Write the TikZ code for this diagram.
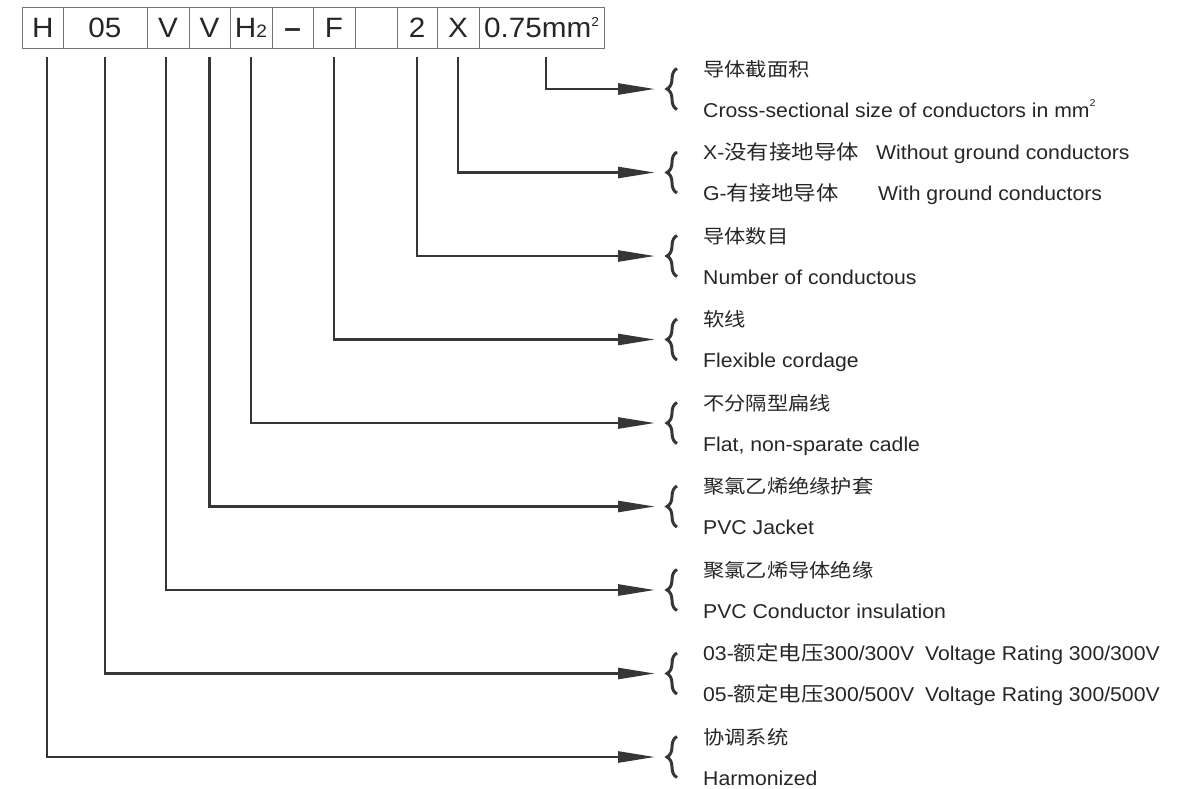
\documentclass[tikz,border=0pt]{standalone}
\usepackage{fontspec}
\setmainfont[FakeStretch=1.06]{Liberation Sans}
\newfontfamily\zhfont[FakeStretch=1.12]{Noto Sans CJK SC}
\usetikzlibrary{arrows.meta,positioning,decorations.pathreplacing}
\definecolor{cbink}{HTML}{262626}
\definecolor{cblead}{HTML}{363636}
\definecolor{cbcell}{HTML}{7A7272}
\newcommand{\zh}[1]{{\zhfont #1}}
\newcommand{\smallsup}[2]{\raisebox{#1}{\fontsize{#2}{#2}\selectfont 2}}

\begin{document}
\begin{tikzpicture}[x=1pt,y=-1pt,>=Latex,node distance=0pt]
    \tikzset{cell/.style={draw=cbcell,line width=0.9pt,outer sep=0pt,minimum height=41pt,inner sep=0pt,text height=20pt,text depth=0pt,text=cbink,font=\fontsize{28}{28}\selectfont},
      lead/.style={draw=cblead,line width=2.6pt,-{Triangle[length=37pt,width=11pt]}},
      curly/.style={draw=cblead,line width=3pt,decorate,decoration={brace,amplitude=10pt,aspect=0.5}},
      zhtxt/.style={anchor=base west,inner sep=0pt,text=cbink,font=\zhfont\fontsize{19}{19}\selectfont},
      entxt/.style={anchor=base west,inner sep=0pt,text=cbink,font=\fontsize{20}{20}\selectfont}}
    \useasboundingbox (0,0) rectangle (1182,788);
    % code cells
    \node[cell,minimum width=40.3pt] (cH) at (42.85,27.5) {H};
    \node[cell,minimum width=84pt,right=of cH] (c05) {05};
    \node[cell,minimum width=42pt,right=of c05] (cV1) {V};
    \node[cell,minimum width=41pt,right=of cV1] (cV2) {V};
    \node[cell,minimum width=42pt,right=of cV2] (cH2) {H{\fontsize{18}{18}\selectfont 2}};
    \node[cell,minimum width=41pt,right=of cH2] (cDash) {\textbf{--}};
    \node[cell,minimum width=42pt,right=of cDash] (cF) {F};
    \node[cell,minimum width=42pt,right=of cF] (cBlank) {};
    \node[cell,minimum width=40pt,right=of cBlank] (cN) {2};
    \node[cell,minimum width=42pt,right=of cN] (cX) {X};
    \node[cell,minimum width=125pt,right=of cX] (cSize) {0.75mm\smallsup{11pt}{13}};
    % arrow tips
    \coordinate (tSize) at (655,89);
    \coordinate (tX) at (655,172.5);
    \coordinate (tN) at (655,256);
    \coordinate (tF) at (655,339.5);
    \coordinate (tH2) at (655,423);
    \coordinate (tV2) at (655,506.5);
    \coordinate (tV1) at (655,590);
    \coordinate (t05) at (655,673.5);
    \coordinate (tH) at (655,757);
    \draw[lead] ([xshift=4.5pt,yshift=-9pt]cSize.south) |- (tSize);
    \draw[lead] ([yshift=-9pt]cX.south) |- (tX);
    \draw[lead] ([yshift=-9pt]cN.south) |- (tN);
    \draw[lead] ([yshift=-9pt]cF.south) |- (tF);
    \draw[lead] ([yshift=-9pt]cH2.south) |- (tH2);
    \draw[lead] ([yshift=-9pt]cV2.south) |- (tV2);
    \draw[lead] ([xshift=-2pt,yshift=-9pt]cV1.south) |- (tV1);
    \draw[lead] ([yshift=-9pt]c05.south) |- (t05);
    \draw[lead] ([xshift=4pt,yshift=-9pt]cH.south) |- (tH);
    \foreach \t in {tSize,tX,tN,tF,tH2,tV2,tV1,t05,tH}
      \draw[curly] ([shift={(22,20.5)}]\t) -- ([shift={(22,-20.5)}]\t);
    % explanations
    \node[zhtxt] (zSize) at ([shift={(48,-13)}]tSize) {导体截面积};
    \node[entxt] (eSize) at ([shift={(48,28)}]tSize) {Cross-sectional size of conductors in mm\smallsup{0.55em}{10}};
    \node[entxt] (zX) at ([shift={(48,-13)}]tX) {\makebox[173pt][l]{X-\zh{没有接地导体}}Without ground conductors};
    \node[entxt] (eX) at ([shift={(48,28)}]tX) {\makebox[175pt][l]{G-\zh{有接地导体}}With ground conductors};
    \node[zhtxt] (zN) at ([shift={(48,-13)}]tN) {导体数目};
    \node[entxt] (eN) at ([shift={(48,28)}]tN) {Number of conductous};
    \node[zhtxt] (zF) at ([shift={(48,-13)}]tF) {软线};
    \node[entxt] (eF) at ([shift={(48,28)}]tF) {Flexible cordage};
    \node[zhtxt] (zH2) at ([shift={(48,-13)}]tH2) {不分隔型扁线};
    \node[entxt] (eH2) at ([shift={(48,28)}]tH2) {Flat, non-sparate cadle};
    \node[zhtxt] (zV2) at ([shift={(48,-13)}]tV2) {聚氯乙烯绝缘护套};
    \node[entxt] (eV2) at ([shift={(48,28)}]tV2) {PVC Jacket};
    \node[zhtxt] (zV1) at ([shift={(48,-13)}]tV1) {聚氯乙烯导体绝缘};
    \node[entxt] (eV1) at ([shift={(48,28)}]tV1) {PVC Conductor insulation};
    \node[entxt] (z05) at ([shift={(48,-13)}]t05) {\makebox[222pt][l]{03-\zh{额定电压}300/300V}Voltage Rating 300/300V};
    \node[entxt] (e05) at ([shift={(48,28)}]t05) {\makebox[222pt][l]{05-\zh{额定电压}300/500V}Voltage Rating 300/500V};
    \node[zhtxt] (zH) at ([shift={(48,-13)}]tH) {协调系统};
    \node[entxt] (eH) at ([shift={(48,28)}]tH) {Harmonized};
  \end{tikzpicture}
\end{document}
